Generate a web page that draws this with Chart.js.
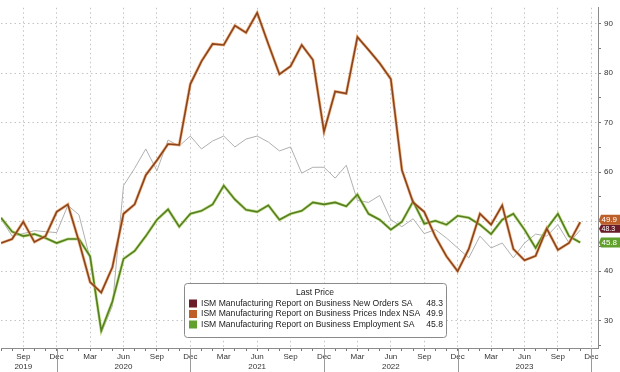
<!DOCTYPE html>
<html>
<head>
<meta charset="utf-8">
<script src="https://cdn.jsdelivr.net/npm/chart.js@4.4.0/dist/chart.umd.min.js"></script>
<style>
    html, body { margin: 0; padding: 0; background: #fff; }
</style>
</head>
<body>
<canvas id="ism_chart" width="620" height="372"></canvas>
<script>
// Monthly readings, Jul 2019 -> Nov 2023
const months = [
    'Jul 2019', 'Aug 2019', 'Sep 2019', 'Oct 2019', 'Nov 2019', 'Dec 2019',
    'Jan 2020', 'Feb 2020', 'Mar 2020', 'Apr 2020', 'May 2020', 'Jun 2020',
    'Jul 2020', 'Aug 2020', 'Sep 2020', 'Oct 2020', 'Nov 2020', 'Dec 2020',
    'Jan 2021', 'Feb 2021', 'Mar 2021', 'Apr 2021', 'May 2021', 'Jun 2021',
    'Jul 2021', 'Aug 2021', 'Sep 2021', 'Oct 2021', 'Nov 2021', 'Dec 2021',
    'Jan 2022', 'Feb 2022', 'Mar 2022', 'Apr 2022', 'May 2022', 'Jun 2022',
    'Jul 2022', 'Aug 2022', 'Sep 2022', 'Oct 2022', 'Nov 2022', 'Dec 2022',
    'Jan 2023', 'Feb 2023', 'Mar 2023', 'Apr 2023', 'May 2023', 'Jun 2023',
    'Jul 2023', 'Aug 2023', 'Sep 2023', 'Oct 2023', 'Nov 2023'
]
const newOrders = [
    50.6, 47.1, 47.6, 48.2, 48.0, 47.8, 53.3, 51.4, 42.5, 27.5, 33.0, 57.3,
    60.8, 64.7, 60.3, 66.5, 65.3, 67.3, 64.7, 66.3, 67.3, 65.1, 66.7, 67.3,
    66.1, 64.3, 65.1, 59.8, 61.0, 61.0, 58.8, 61.4, 54.3, 53.9, 55.3, 50.4,
    49.0, 50.6, 47.6, 48.4, 46.7, 44.7, 42.7, 47.1, 44.7, 45.7, 42.7, 45.7,
    47.5, 47.1, 49.4, 45.7, 48.3
]
const prices = [
    45.7, 46.5, 50.0, 45.9, 47.1, 52.0, 53.5, 46.0, 37.8, 35.7, 40.8, 51.6,
    53.5, 59.4, 62.4, 65.7, 65.5, 77.8, 82.4, 85.9, 85.7, 89.6, 88.2, 92.2,
    85.9, 79.8, 81.4, 85.7, 82.7, 68.2, 76.3, 75.9, 87.3, 84.7, 82.0, 78.8,
    60.4, 53.9, 52.0, 47.0, 43.0, 40.0, 44.5, 51.6, 49.4, 53.3, 44.5, 42.2,
    43.1, 48.6, 44.3, 45.7, 49.9
]
const employment = [
    50.8, 48.0, 47.1, 47.5, 46.7, 45.7, 46.5, 46.5, 43.0, 28.0, 33.9, 42.5,
    44.1, 47.1, 50.4, 52.5, 49.0, 51.6, 52.2, 53.5, 57.3, 54.5, 52.4, 52.0,
    53.3, 50.4, 51.6, 52.2, 53.9, 53.5, 53.9, 53.1, 55.5, 51.6, 50.4, 48.4,
    50.0, 54.1, 49.6, 50.2, 49.4, 51.2, 50.8, 49.4, 47.5, 50.4, 51.6, 48.4,
    44.7, 48.6, 51.6, 47.1, 45.8
]
// Quarter tick labels (Sep 2019 ... Dec 2023) and the year shown under some of them
const tickLabels = ['Sep', 'Dec', 'Mar', 'Jun', 'Sep', 'Dec', 'Mar', 'Jun', 'Sep',
    'Dec', 'Mar', 'Jun', 'Sep', 'Dec', 'Mar', 'Jun', 'Sep', 'Dec']
const yearLabels = ['2019', '', '', '2020', '', '', '', '2021', '', '', '', '2022',
    '', '', '', '2023', '', '']

const seriesNames = [
    'ISM Manufacturing Report on Business New Orders SA',
    'ISM Manufacturing Report on Business Prices Index NSA',
    'ISM Manufacturing Report on Business Employment SA'
]
const seriesColors = ['#6a1d28', '#bd5f28', '#62a02e']

const FONT = 'Liberation Sans, Arial, sans-serif'

// quarter ticks start at Sep 2019 (i = 2)
const isQuarter = v => v % 3 === 2
const toPoints = arr => arr.map((v, i) => ({x: i, y: v}))

// Legend box with last values
const lastPricePlugin = {
    id: 'lastPriceBox',
    afterDatasetsDraw(chart) {
        const ctx = chart.ctx
        const x = 184, y = 283, w = 262, h = 54
        ctx.save()
        ctx.fillStyle = '#fff'
        ctx.strokeStyle = '#8a8a8a'
        ctx.lineWidth = 1
        ctx.beginPath()
        ctx.roundRect(x + 0.5, y + 0.5, w, h, 3)
        ctx.fill()
        ctx.stroke()
        ctx.font = '8.6px ' + FONT
        ctx.fillStyle = '#222'
        ctx.textBaseline = 'middle'
        ctx.textAlign = 'center'
        ctx.fillText('Last Price', x + w / 2, y + 10)
        const last = [newOrders, prices, employment].map(a => a[a.length - 1])
        seriesNames.forEach((name, k) => {
            const rowY = y + 20.5 + k * 10.5
            ctx.fillStyle = seriesColors[k]
            ctx.fillRect(x + 5, rowY - 4, 8, 8)
            ctx.fillStyle = '#222'
            ctx.textAlign = 'left'
            ctx.fillText(name, x + 17, rowY)
            ctx.textAlign = 'right'
            ctx.fillText(last[k].toFixed(1), x + w - 3, rowY)
        })
        ctx.restore()
    }
}

// Coloured last value tags on the right axis + year separators under the x axis
const axisExtrasPlugin = {
    id: 'axisExtras',
    afterDraw(chart) {
        const ctx = chart.ctx
        const xs = chart.scales.x
        const ys = chart.scales.y
        const area = chart.chartArea
        ctx.save()
        // year separators at each Dec tick
        ctx.strokeStyle = '#9a9a9a'
        ctx.lineWidth = 1
        tickLabels.forEach((t, k) => {
            if (t !== 'Dec') return
            const px = Math.round(xs.getPixelForValue(2 + k * 3)) + 0.5
            ctx.beginPath()
            ctx.moveTo(px, area.bottom)
            ctx.lineTo(px, chart.height)
            ctx.stroke()
        })
        // tags
        const last = [newOrders, prices, employment].map(a => a[a.length - 1])
        const py = last.map(v => ys.getPixelForValue(v))
        const mid = py[0] - 1.5
        const tags = [
            {k: 0, y: mid, h: 8, size: 7},
            {k: 1, y: Math.min(py[1], mid - 9), h: 10, size: 8},
            {k: 2, y: Math.max(py[2], mid + 11), h: 10, size: 8}
        ]
        ctx.textAlign = 'left'
        ctx.textBaseline = 'middle'
        tags.forEach(t => {
            const left = area.right + 1
            ctx.fillStyle = seriesColors[t.k]
            ctx.beginPath()
            ctx.moveTo(left, t.y)
            ctx.lineTo(left + 2, t.y - t.h / 2)
            ctx.lineTo(chart.width, t.y - t.h / 2)
            ctx.lineTo(chart.width, t.y + t.h / 2)
            ctx.lineTo(left + 2, t.y + t.h / 2)
            ctx.closePath()
            ctx.fill()
            ctx.font = t.size + 'px ' + FONT
            ctx.fillStyle = '#fff'
            ctx.fillText(last[t.k].toFixed(1), area.right + 3.5, t.y + 0.5)
        })
        ctx.restore()
    }
}

const ctx = document.getElementById('ism_chart').getContext('2d')
const ismChart = new Chart(ctx, {
    type: 'line',
    data: {
        datasets: [
            // dark core lines
            { label: seriesNames[1], data: toPoints(prices), borderColor: '#8a4520', borderWidth: 1.6, order: 1 },
            { label: seriesNames[2], data: toPoints(employment), borderColor: '#557f22', borderWidth: 1.6, order: 3 },
            // light halos under them
            { label: 'prices halo', data: toPoints(prices), borderColor: 'rgba(232,150,80,0.7)', borderWidth: 3, order: 2 },
            { label: 'employment halo', data: toPoints(employment), borderColor: 'rgba(170,210,90,0.7)', borderWidth: 3, order: 4 },
            { label: seriesNames[0], data: toPoints(newOrders), borderColor: '#b0b0b0', borderWidth: 1, order: 5 }
        ]
    },
    options: {
        responsive: false,
        animation: false,
        layout: { padding: 0 },
        elements: {
            point: { radius: 0 },
            line: { tension: 0 }
        },
        plugins: {
            legend: { display: false },
            tooltip: { enabled: false }
        },
        scales: {
            x: {
                type: 'linear',
                min: 0,
                max: 53.6,
                afterBuildTicks: axis => {
                    axis.ticks = []
                    for (let i = 0; i <= 53; i++) axis.ticks.push({value: i})
                },
                afterFit: axis => { axis.height = 24 },
                ticks: {
                    autoSkip: false,
                    maxRotation: 0,
                    padding: 1,
                    color: '#333',
                    font: { size: 8, family: FONT },
                    callback: v => {
                        if (!isQuarter(v)) return ''
                        const k = (v - 2) / 3
                        return yearLabels[k] ? [tickLabels[k], yearLabels[k]] : tickLabels[k]
                    }
                },
                grid: {
                    color: c => c.tick && isQuarter(c.tick.value) ? '#c4c4c4' : 'rgba(0,0,0,0)',
                    tickColor: '#777',
                    tickLength: 3,
                    lineWidth: 1
                },
                border: { color: '#8c8c8c', dash: [1.5, 3] }
            },
            y: {
                position: 'right',
                min: 24.5,
                max: 93.2,
                afterBuildTicks: axis => {
                    axis.ticks = []
                    for (let v = 25; v <= 90; v += 5) axis.ticks.push({value: v})
                },
                afterFit: axis => { axis.width = 22 },
                ticks: {
                    padding: 3,
                    color: '#333',
                    font: { size: 8, family: FONT },
                    callback: v => v % 10 === 0 ? v : ''
                },
                grid: {
                    color: c => c.tick && c.tick.value % 10 === 0 ? '#c4c4c4' : 'rgba(0,0,0,0)',
                    tickColor: '#777',
                    tickLength: 3,
                    lineWidth: 1
                },
                border: { color: '#8c8c8c', dash: [1.5, 3] }
            }
        }
    },
    plugins: [lastPricePlugin, axisExtrasPlugin]
})
</script>
</body>
</html>
